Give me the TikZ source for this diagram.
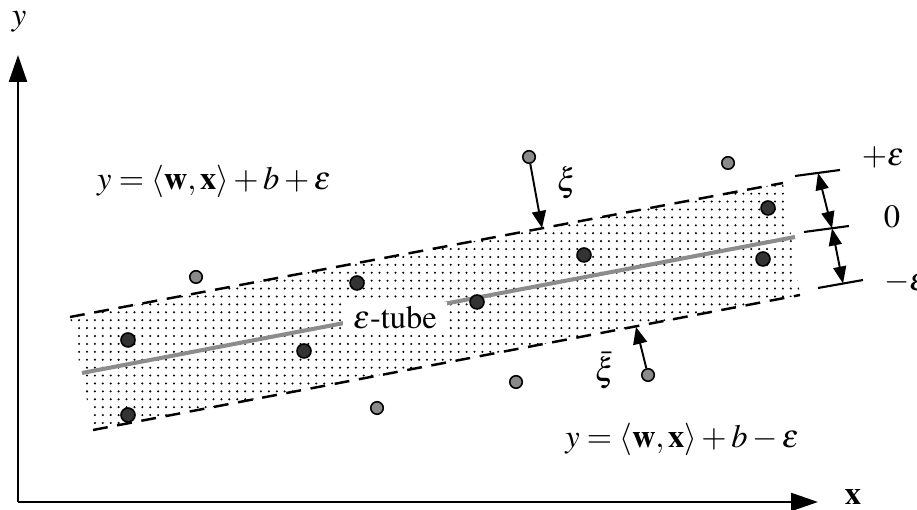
\documentclass[tikz,border=0pt]{standalone}
\usepackage[T1]{fontenc}
\usepackage{mathptmx}
\usetikzlibrary{arrows.meta,patterns.meta}
\definecolor{PtDark}{HTML}{333333}
\definecolor{PtGray}{HTML}{8A8A8A}
\definecolor{FitGray}{HTML}{8C8C8C}
\tikzset{
  axis/.style={line width=1.3pt, -{Triangle[length=5.4mm,width=3.6mm]}},
  bnd/.style={line width=1.4pt, dash pattern=on 8.5pt off 5.5pt},
  ptin/.style={circle, draw=black, line width=0.9pt, fill=PtDark,
             minimum size=2.8mm, inner sep=0pt},
  ptout/.style={circle, draw=black, line width=0.9pt, fill=PtGray,
             minimum size=2.5mm, inner sep=0pt},
  lbl/.style={font=\fontsize{18.5}{22}\selectfont, inner sep=1pt},
}

\begin{document}
\begin{tikzpicture}[
  slack/.style={line width=1.1pt, -{Triangle[length=3.4mm,width=2.8mm]}},
  dim/.style={line width=1.1pt, {Triangle[length=3.4mm,width=2.6mm]}-{Triangle[length=3.4mm,width=2.6mm]}},
  tick/.style={line width=1.2pt},
]
\useasboundingbox (0,0) rectangle (18.34,10.2);
% ===================== axes
\coordinate (O) at (0.36,0.16);
\coordinate (ytip) at (0.36,9.10);
\coordinate (xtip) at (16.36,0.16);
\draw[axis] (O) -- (ytip);
\draw[axis] (O) -- (xtip);
\node[lbl] (ylab) at (0.38,9.76) {$y$};
\node[lbl] (xlab) at (17.06,0.26) {$\mathbf{x}$};
% ===================== the tube
\coordinate (TL) at (1.40,3.86); \coordinate (TR) at (15.66,6.54);
\coordinate (BR) at (16.00,4.30); \coordinate (BL) at (1.86,1.60);
\coordinate (CL) at (1.64,2.74); \coordinate (CR) at (15.90,5.46);
\fill[pattern={Dots[distance=4.5pt,radius=0.65pt]}] (TL) -- (TR) -- (BR) -- (BL) -- cycle;
\draw[bnd] (TL) -- (TR);
\draw[bnd] (BL) -- (BR);
\draw[line width=2.3pt, draw=FitGray] (CL) -- (CR);
\node[lbl, fill=white, inner xsep=2mm, inner ysep=1mm] (tube) at (7.90,3.84) {$\varepsilon$-tube};
% width markers on the right
\coordinate (P1a) at (15.90,6.68); \coordinate (P1b) at (16.80,6.80);
\coordinate (Z1a) at (16.08,5.56); \coordinate (Z1b) at (16.98,5.68);
\coordinate (M1a) at (16.36,4.44); \coordinate (M1b) at (17.26,4.60);
\draw[tick] (P1a) -- (P1b);
\draw[tick] (Z1a) -- (Z1b);
\draw[tick] (M1a) -- (M1b);
\coordinate (Pm) at (16.36,6.74);
\coordinate (Zm) at (16.64,5.63);
\coordinate (Mm) at (16.86,4.53);
\draw[dim] (Pm) -- (Zm);
\draw[dim] (Zm) -- (Mm);
\node[lbl] (peps) at (17.66,7.06) {$+\varepsilon$};
\node[lbl] (zero) at (17.84,5.86) {$0$};
\node[lbl, anchor=west] (meps) at (17.64,4.56) {$-\varepsilon$};
% ===================== samples
\foreach \n/\p in {1/{(2.56,3.40)}, 2/{(2.56,1.90)}, 3/{(6.08,3.18)}, 4/{(7.14,4.54)},
                   5/{(9.54,4.16)}, 6/{(11.68,5.10)}, 7/{(15.36,6.04)}, 8/{(15.26,5.02)}}
  \node[ptin] (d\n) at \p {};
\foreach \n/\p in {1/{(3.92,4.66)}, 2/{(10.58,7.06)}, 3/{(14.56,6.94)},
                   4/{(7.54,2.04)}, 5/{(10.32,2.56)}, 6/{(12.96,2.70)}}
  \node[ptout] (g\n) at \p {};
% slacks of the two outliers
\coordinate (xiup) at (10.84,5.64);
\coordinate (xilo) at (12.72,3.66);
\draw[slack] (g2) -- (xiup);
\draw[slack] (g6) -- (xilo);
\node[lbl] (xi) at (11.34,6.54) {$\xi$};
\node[lbl] (xibar) at (12.10,2.80) {$\bar{\xi}$};
% ===================== boundary equations
\node[lbl] (equp) at (4.28,6.56) {$y=\langle\mathbf{w},\mathbf{x}\rangle+b+\varepsilon$};
\node[lbl] (eqlo) at (13.64,1.40) {$y=\langle\mathbf{w},\mathbf{x}\rangle+b-\varepsilon$};
\end{tikzpicture}
\end{document}
